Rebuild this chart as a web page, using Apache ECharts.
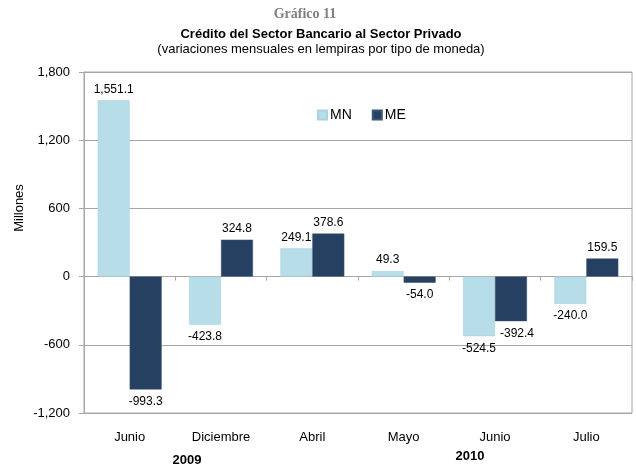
<!DOCTYPE html>
<html style="height: 100%; width: 100%">
  <head>
    <meta charset="utf-8" />
  </head>
  <body style="height: 100%; width: 100%; margin: 0">
    <div id="chart-panel" style="height: 467px; width: 636px"></div>
    <script
      type="text/javascript"
      src="https://cdn.jsdelivr.net/npm/echarts@6/dist/echarts.min.js"
    ></script>
    <script type="text/javascript">
      var dom = document.getElementById("chart-panel");
      var myChart = echarts.init(dom);

      // meses (los dos primeros son 2009, el resto 2010)
      var categories = ["Junio", "Diciembre", "Abril", "Mayo", "Junio", "Julio"];
      var mn = [1551.1, -423.8, 249.1, 49.3, -524.5, -240.0];
      var me = [-993.3, 324.8, 378.6, -54.0, -392.4, 159.5];
      var years = ["2009", "2010"];

      var gris = "#a6a6a6";

      function fmt(v) {
        return v.toLocaleString("en-US", {
          minimumFractionDigits: 1,
          maximumFractionDigits: 1,
        });
      }

      function labelFor(v) {
        return {
          show: true,
          position: v >= 0 ? "top" : "bottom",
          distance: v >= 0 ? 5 : 6,
          formatter: function (p) {
            return fmt(p.value);
          },
          color: "#000",
          fontSize: 12,
          fontFamily: "Liberation Sans",
        };
      }

      function buildData(arr) {
        return arr.map(function (v) {
          return { value: v, label: labelFor(v) };
        });
      }

      var dataMe = buildData(me);
      // la etiqueta de junio 2010 (ME) aparece corrida a la derecha
      dataMe[4].label.offset = [6, 0];

      var option = {
        animation: false,
        textStyle: { fontFamily: "Liberation Sans" },
        title: [
          {
            text: "Gráfico 11",
            left: 300,
            top: 2,
            textAlign: "center",
            textStyle: {
              fontFamily: "Liberation Serif",
              fontWeight: "bold",
              fontSize: 14,
              color: "#7f7f7f",
            },
          },
          {
            text: "Crédito del Sector Bancario al Sector Privado",
            subtext: "(variaciones mensuales en lempiras por tipo de moneda)",
            left: 316,
            top: 23,
            textAlign: "center",
            itemGap: 2,
            textStyle: {
              fontFamily: "Liberation Sans",
              fontWeight: "bold",
              fontSize: 13,
              color: "#000",
            },
            subtextStyle: {
              fontFamily: "Liberation Sans",
              fontSize: 13,
              color: "#000",
            },
          },
        ],
        legend: {
          left: 312,
          top: 103,
          itemWidth: 9,
          itemHeight: 9,
          itemGap: 20,
          icon: "rect",
          textStyle: { fontSize: 14, color: "#000", padding: [0, 0, 0, -2] },
          data: ["MN", "ME"],
        },
        grid: {
          left: 84,
          right: 4,
          top: 72,
          bottom: 54,
          show: true,
          borderColor: gris,
          borderWidth: 1,
        },
        xAxis: [
          {
            type: "category",
            data: categories,
            axisLine: { onZero: true, lineStyle: { color: gris } },
            axisTick: { show: true, length: 4, lineStyle: { color: gris } },
            axisLabel: { show: false },
          },
          {
            type: "category",
            data: categories,
            position: "bottom",
            axisLine: { show: false, onZero: false },
            axisTick: { show: false },
            axisLabel: {
              margin: 18,
              fontSize: 13,
              color: "#000",
            },
          },
        ],
        yAxis: {
          type: "value",
          min: -1200,
          max: 1800,
          interval: 600,
          axisLine: { show: true, lineStyle: { color: gris } },
          axisTick: { show: true, length: 5, lineStyle: { color: gris } },
          splitLine: { lineStyle: { color: gris } },
          axisLabel: {
            fontSize: 13,
            color: "#000",
            margin: 14,
            formatter: function (v) {
              return v.toLocaleString("en-US");
            },
          },
        },
        graphic: [
          {
            type: "text",
            x: 19,
            y: 208,
            rotation: Math.PI / 2,
            style: {
              text: "Millones",
              fontSize: 13,
              fontFamily: "Liberation Sans",
              fill: "#000",
              align: "center",
              verticalAlign: "middle",
            },
          },
          {
            type: "text",
            x: 187,
            y: 460,
            style: {
              text: years[0],
              fontSize: 13,
              fontWeight: "bold",
              fontFamily: "Liberation Sans",
              fill: "#000",
              align: "center",
              verticalAlign: "middle",
            },
          },
          {
            type: "text",
            x: 470,
            y: 456,
            style: {
              text: years[1],
              fontSize: 13,
              fontWeight: "bold",
              fontFamily: "Liberation Sans",
              fill: "#000",
              align: "center",
              verticalAlign: "middle",
            },
          },
        ],
        series: [
          {
            name: "MN",
            type: "bar",
            barWidth: "35%",
            barGap: "0%",
            itemStyle: { color: "#b7dde8", borderColor: "#a9d3df", borderWidth: 0.5 },
            data: buildData(mn),
          },
          {
            name: "ME",
            type: "bar",
            barWidth: "35%",
            itemStyle: { color: "#254061", borderColor: "#3b5575", borderWidth: 0.5 },
            data: dataMe,
          },
        ],
      };
      myChart.setOption(option);
    </script>
  </body>
</html>
